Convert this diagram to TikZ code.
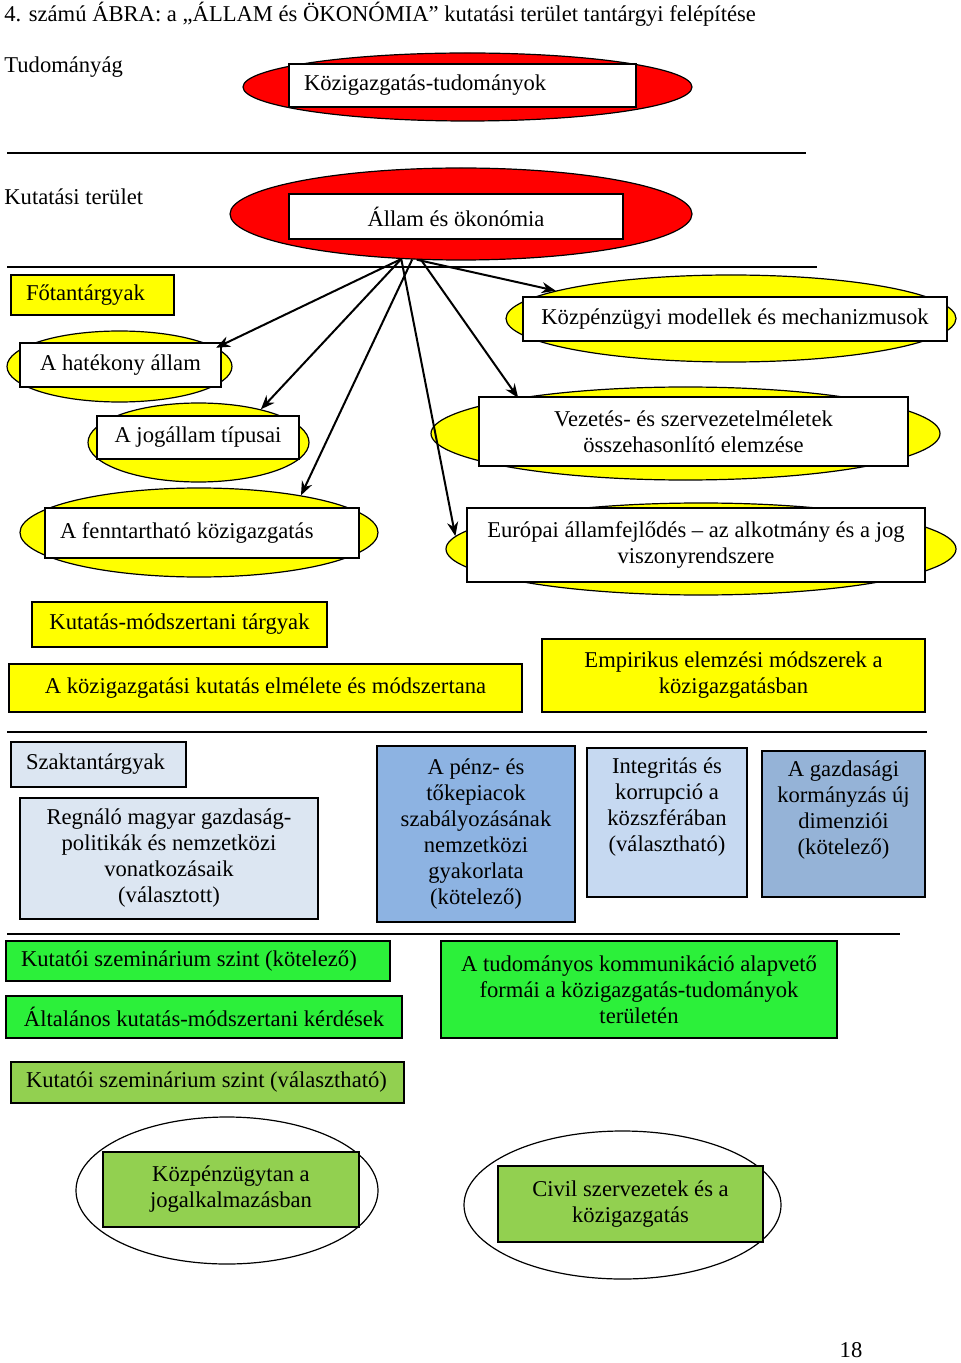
\documentclass[tikz,border=0pt]{standalone}
\usepackage{fontspec}
\setmainfont{Liberation Serif}
\usetikzlibrary{shapes.geometric, arrows.meta}
\definecolor{redfill}{RGB}{255,0,0}
\definecolor{yellowfill}{RGB}{255,255,0}
\definecolor{brightgreen}{RGB}{44,240,58}
\definecolor{olivegreen}{RGB}{146,208,80}
\definecolor{paleblue}{RGB}{220,230,242}
\definecolor{midblue}{RGB}{141,179,226}
\definecolor{lightblue}{RGB}{198,217,241}
\definecolor{steelblue}{RGB}{149,179,215}
\newcommand{\lefttxt}[2]{\makebox[#1][l]{#2}}
\tikzstyle{ell} = [ellipse, draw=black, line width=0.6pt, inner sep=0pt]
\tikzstyle{box} = [rectangle, draw=black, line width=0.8pt, fill=white, align=center, inner sep=3pt]
\tikzstyle{leftbox} = [box, inner xsep=7.5pt]
\tikzstyle{plain} = [inner sep=0pt, anchor=west]
\tikzstyle{rule} = [line width=1pt]
\tikzstyle{arrow} = [line width=1pt,->,>={Stealth[length=7pt,width=5.5pt]}]

\begin{document}
\begin{tikzpicture}[x=0.5pt, y=-0.5pt, font=\fontsize{11.3}{13}\selectfont]
\useasboundingbox (0,0) rectangle (960,1363);

%% NODES

\node (title) [plain] at (4,14) {4. számú ÁBRA: a „ÁLLAM és ÖKONÓMIA” kutatási terület tantárgyi felépítése};
\node (tudl) [plain] at (4,67) {Tudományág};
\node (kutl) [plain] at (4,197) {Kutatási terület};

\node (kte) [ell, fill=redfill, minimum width=224.5pt, minimum height=34pt] at (467.5,87) {};
\node (kt) [leftbox, minimum height=21.5pt] at (462.5,85.5) {\lefttxt{158.5pt}{Közigazgatás-tudományok}};
\node (ae) [ell, fill=redfill, minimum width=231pt, minimum height=46pt] at (461,214) {};
\node (allam) [box, minimum width=167pt, minimum height=22.5pt] at (456,216.5) {Állam és ökonómia};

\node (fot) [leftbox, fill=yellowfill, minimum height=20pt] at (92.5,295) {\lefttxt{66.5pt}{Főtantárgyak}};
\node (he) [ell, fill=yellowfill, minimum width=112.5pt, minimum height=35.5pt] at (119.5,366.5) {};
\node (hat) [box, minimum width=100.5pt, minimum height=22pt] at (120.5,365) {A hatékony állam};
\node (je) [ell, fill=yellowfill, minimum width=110.5pt, minimum height=39.5pt] at (198.5,442.5) {};
\node (jog) [box, minimum width=101pt, minimum height=21.5pt] at (198,437.5) {A jogállam típusai};
\node (fe) [ell, fill=yellowfill, minimum width=179pt, minimum height=44.5pt] at (199,532.5) {};
\node (fen) [leftbox, minimum height=25pt] at (202,533) {\lefttxt{142pt}{A fenntartható közigazgatás}};

\node (ke) [ell, fill=yellowfill, minimum width=225pt, minimum height=43.5pt] at (731,318.5) {};
\node (kp) [box, minimum width=212pt, minimum height=22pt] at (735,319) {Közpénzügyi modellek és mechanizmusok};
\node (ve) [ell, fill=yellowfill, minimum width=254.5pt, minimum height=46.5pt] at (685.5,433.5) {};
\node (vez) [box, minimum width=214.5pt, minimum height=34.5pt] at (693.5,431.5) {Vezetés- és szervezetelméletek\\összehasonlító elemzése};
\node (ee) [ell, fill=yellowfill, minimum width=255pt, minimum height=46pt] at (701,549) {};
\node (eur) [box, minimum width=229pt, minimum height=37pt] at (696,545) {Európai államfejlődés -- az alkotmány és a jog\\viszonyrendszere};

\node (kmt) [box, fill=yellowfill, minimum width=147.5pt, minimum height=22.5pt] at (179.5,624.5) {Kutatás-módszertani tárgyak};
\node (kke) [box, fill=yellowfill, minimum width=256.5pt, minimum height=24pt] at (265.5,688) {A közigazgatási kutatás elmélete és módszertana};
\node (emp) [box, fill=yellowfill, minimum width=191.5pt, minimum height=36.5pt] at (733.5,675.5) {Empirikus elemzési módszerek a\\közigazgatásban};

\node (szak) [leftbox, fill=paleblue, minimum height=22.5pt] at (98.5,764.5) {\lefttxt{72.5pt}{Szaktantárgyak}};
\node (reg) [box, fill=paleblue, minimum width=149pt, minimum height=60.5pt] at (169,858.5) {Regnáló magyar gazdaság-\\politikák és nemzetközi\\vonatkozásaik\\(választott)};
\node (penz) [box, fill=midblue, minimum width=99pt, minimum height=88pt] at (476,834) {A pénz- és\\tőkepiacok\\szabályozásának\\nemzetközi\\gyakorlata\\(kötelező)};
\node (integ) [box, fill=lightblue, minimum width=80pt, minimum height=74.5pt,
  label={[align=center, anchor=north, yshift=-2pt]north:Integritás és\\korrupció a\\közszférában\\(választható)}] at (667,822.5) {};
\node (gazd) [box, fill=steelblue, minimum width=81.5pt, minimum height=73pt,
  label={[align=center, anchor=north, yshift=-2pt]north:A gazdasági\\kormányzás új\\dimenziói\\(kötelező)}] at (843.5,824) {};

\node (ksk) [leftbox, fill=brightgreen, minimum height=20pt] at (198,961) {\lefttxt{177pt}{Kutatói szeminárium szint (kötelező)}};
\node (alt) [leftbox, fill=brightgreen, inner xsep=9pt, minimum height=21pt] at (204,1017) {\lefttxt{180pt}{Általános kutatás-módszertani kérdések}};
\node (tud) [box, fill=brightgreen, minimum width=198pt, minimum height=48.5pt] at (639,989.5) {A tudományos kommunikáció alapvető\\formái a közigazgatás-tudományok\\területén};
\node (ksv) [leftbox, fill=olivegreen, minimum height=20.5pt] at (207.5,1082.5) {\lefttxt{181.5pt}{Kutatói szeminárium szint (választható)}};

\node (kpe) [ell, fill=white, minimum width=151pt, minimum height=73.5pt] at (227,1190.5) {};
\node (kpj) [box, fill=olivegreen, minimum width=128pt, minimum height=37.5pt] at (231,1189.5) {Közpénzügytan a\\jogalkalmazásban};
\node (cve) [ell, fill=white, minimum width=158.5pt, minimum height=74pt] at (622.5,1205) {};
\node (civ) [box, fill=olivegreen, minimum width=132.5pt, minimum height=38pt] at (630.5,1204) {Civil szervezetek és a\\közigazgatás};

\node (page) at (851,1350) {18};

%% RULES

\draw [rule] (7,153) -- (806,153);
\draw [rule] (7,267) -- (817,267);
\draw [rule] (7,732) -- (927,732);
\draw [rule] (7,934) -- (900,934);

%% ARROWS

\draw [arrow] (ae.217) -- (he.11);
\draw [arrow] (ae.217) -- (je.28);
\draw [arrow] (ae.223) -- (fe.20);
\draw [arrow] (ae.217) -- (ee.177);
\draw [arrow] (ae.229) -- (ve.168);
\draw [arrow] (ae.226) -- (ke.171);

\end{tikzpicture}
\end{document}
